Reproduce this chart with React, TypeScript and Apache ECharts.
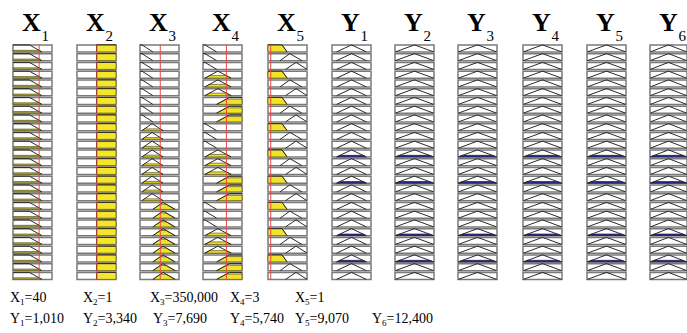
import React, { useEffect, useRef } from "react";
import * as echarts from "echarts";

const ROWS = 27;
const inputSubs = ["1", "2", "3", "4", "5"];
const outputSubs = ["1", "2", "3", "4", "5", "6"];
const inputValueText = ["40", "1", "350,000", "3", "1"];
const outputValueText = ["1,010", "3,340", "7,690", "5,740", "9,070", "12,400"];

// normalized input values (position of the red line in each input universe)
const inputPos = [0.67, 0.51, 0.52, 0.6, 0.07];

// membership functions per input, points [x, membership]
const x1MF = [[[0, 1], [0.42, 1], [0.74, 0]]];
const x2MF = [[[0.5, 0], [0.5, 1], [1, 1]]];
const x3MF = [
  [[0, 1], [0.05, 1], [0.33, 0]],
  [[0.05, 0], [0.31, 1], [0.59, 0]],
  [[0.33, 0], [0.59, 1], [0.9, 0]],
];
const x4MF = [
  [[0, 1], [0.05, 1], [0.35, 0]],
  [[0.05, 0], [0.38, 1], [0.72, 0]],
  [[0.35, 0], [0.68, 1], [1, 1]],
];
const x5MF = [
  [[0, 1], [0.36, 1], [0.49, 0]],
  [[0.31, 0], [0.56, 1], [0.87, 0]],
  [[0.45, 0], [0.72, 1], [1, 0]],
];

// rule antecedents (index of MF used by each of the 27 rules)
const ruleX1 = [0, 0, 0, 0, 0, 0, 0, 0, 0, 0, 0, 0, 0, 0, 0, 0, 0, 0, 0, 0, 0, 0, 0, 0, 0, 0, 0];
const ruleX2 = [0, 0, 0, 0, 0, 0, 0, 0, 0, 0, 0, 0, 0, 0, 0, 0, 0, 0, 0, 0, 0, 0, 0, 0, 0, 0, 0];
const ruleX3 = [0, 0, 0, 0, 0, 0, 0, 0, 0, 1, 1, 1, 1, 1, 1, 1, 1, 1, 2, 2, 2, 2, 2, 2, 2, 2, 2];
const ruleX4 = [0, 0, 0, 1, 1, 1, 2, 2, 2, 0, 0, 0, 1, 1, 1, 2, 2, 2, 0, 0, 0, 1, 1, 1, 2, 2, 2];
const ruleX5 = [0, 1, 2, 0, 1, 2, 0, 1, 2, 0, 1, 2, 0, 1, 2, 0, 1, 2, 0, 1, 2, 0, 1, 2, 0, 1, 2];

// output membership functions
const y1MF = [[0.12, 0], [0.5, 1], [0.88, 0]];
const y2MF = [[0.01, 0], [0.5, 1], [0.99, 0]];
const y3MF = [[0.01, 0], [0.5, 1], [0.99, 0]];
const y4MF = [[0.01, 0], [0.5, 1], [0.99, 0]];
const y5MF = [[0.01, 0], [0.5, 1], [0.99, 0]];
const y6MF = [[0.01, 0], [0.5, 1], [0.99, 0]];

const inputMFs = [x1MF, x2MF, x3MF, x4MF, x5MF];
const inputRules = [ruleX1, ruleX2, ruleX3, ruleX4, ruleX5];
const outputMFs = [y1MF, y2MF, y3MF, y4MF, y5MF, y6MF];

const COL_LEFT = [13, 77, 140, 203, 268, 332, 395, 458, 523, 587, 650];
const COL_W = 39;
const TOP = 44;
const ROW_H = 8.75;
const FONT = "Liberation Serif, Times New Roman, serif";
const INPUT_FILL = ["#b0aa55", "#f5e62a", "#f2e22a", "#f2e22a", "#f2e22a"];

function evalMF(pts: number[][], x: number): number {
  if (x <= pts[0][0]) return pts[0][1];
  for (let i = 1; i < pts.length; i++) {
    const p = pts[i - 1];
    const q = pts[i];
    if (x >= p[0] && x <= q[0]) {
      if (q[0] === p[0]) return q[1];
      return p[1] + ((x - p[0]) / (q[0] - p[0])) * (q[1] - p[1]);
    }
  }
  return pts[pts.length - 1][1];
}

function clipMF(pts: number[][], mu: number): number[][] {
  const out: number[][] = [[pts[0][0], 0], [pts[0][0], Math.min(pts[0][1], mu)]];
  for (let i = 1; i < pts.length; i++) {
    const p = pts[i - 1];
    const q = pts[i];
    if ((p[1] - mu) * (q[1] - mu) < 0) {
      const t = (mu - p[1]) / (q[1] - p[1]);
      out.push([p[0] + t * (q[0] - p[0]), mu]);
    }
    out.push([q[0], Math.min(q[1], mu)]);
  }
  out.push([pts[pts.length - 1][0], 0]);
  return out;
}

const rowIdx = Array.from({ length: ROWS }, (_, i) => [i]);

function strength(r: number): number {
  let s = 1;
  for (let k = 0; k < inputMFs.length; k++) {
    s = Math.min(s, evalMF(inputMFs[k][inputRules[k][r]], inputPos[k]));
  }
  return s;
}

export default function App() {
  const ref = useRef<HTMLDivElement>(null);
  useEffect(() => {
    if (!ref.current) return;
    const chart = echarts.init(ref.current, null, { renderer: "svg" });
    const grids: any[] = [];
    const xAxes: any[] = [];
    const yAxes: any[] = [];
    const series: any[] = [];
    const graphics: any[] = [];

    for (let c = 0; c < 11; c++) {
      grids.push({ left: COL_LEFT[c], top: TOP, width: COL_W, height: ROWS * ROW_H });
      xAxes.push({ gridIndex: c, type: "value", min: 0, max: 1, show: false });
      yAxes.push({ gridIndex: c, type: "value", min: 0, max: ROWS, inverse: true, show: false });
      const isInput = c < 5;
      const k = isInput ? c : c - 5;
      series.push({
        type: "custom",
        xAxisIndex: c,
        yAxisIndex: c,
        data: rowIdx,
        clip: false,
        renderItem: (params: any, api: any) => {
          const r = api.value(0);
          const tl = api.coord([0, r + 0.1]);
          const br = api.coord([1, r + 0.9]);
          const toPix = (p: number[]) => api.coord([p[0], r + 0.9 - 0.8 * p[1]]);
          const children: any[] = [
            {
              type: "rect",
              shape: { x: tl[0], y: tl[1], width: br[0] - tl[0], height: br[1] - tl[1] },
              style: { fill: "#ffffff", stroke: "#7a7a7a", lineWidth: 1.5 },
            },
          ];
          let mf: number[][];
          let mu: number;
          let fillColor: string;
          if (isInput) {
            mf = inputMFs[k][inputRules[k][r]];
            mu = evalMF(mf, inputPos[k]);
            fillColor = INPUT_FILL[k];
          } else {
            mf = outputMFs[k];
            mu = strength(r);
            fillColor = "#2e2e86";
          }
          if (mu > 0.001) {
            children.push({
              type: "polygon",
              shape: { points: clipMF(mf, mu).map(toPix) },
              style: { fill: fillColor, stroke: isInput ? "#6a6420" : "#20205a", lineWidth: 0.8 },
            });
          }
          children.push({
            type: "polyline",
            shape: { points: mf.map(toPix) },
            style: { fill: null, stroke: "#2a2a2a", lineWidth: 1 },
          });
          return { type: "group", children };
        },
      });
      if (isInput) {
        series.push({
          type: "custom",
          xAxisIndex: c,
          yAxisIndex: c,
          data: [[inputPos[k]]],
          clip: false,
          z: 5,
          renderItem: (params: any, api: any) => {
            const a = api.coord([api.value(0), 0.1]);
            const b = api.coord([api.value(0), ROWS - 0.1]);
            return {
              type: "line",
              shape: { x1: a[0], y1: a[1], x2: b[0], y2: b[1] },
              style: { stroke: "#e8474a", lineWidth: 1 },
            };
          },
        });
      }
      const cx = COL_LEFT[c] + COL_W / 2;
      graphics.push({
        type: "text",
        x: cx - 1,
        y: 22,
        style: {
          text: isInput ? "X" : "Y",
          font: `bold 26px ${FONT}`,
          fill: "#000",
          align: "center",
          verticalAlign: "middle",
        },
      });
      graphics.push({
        type: "text",
        x: cx + 9,
        y: 36,
        style: {
          text: isInput ? inputSubs[k] : outputSubs[k],
          font: `15px ${FONT}`,
          fill: "#000",
          align: "left",
          verticalAlign: "middle",
        },
      });
    }

    const rich = {
      m: { fontSize: 14, fontFamily: FONT, lineHeight: 18, verticalAlign: "middle", fill: "#000" },
      s: { fontSize: 9, fontFamily: FONT, verticalAlign: "bottom", fill: "#000" },
    };
    const inX = [10, 83, 150, 230, 295];
    const outX = [10, 83, 153, 230, 295, 372];
    for (let i = 0; i < inputValueText.length; i++) {
      graphics.push({
        type: "text",
        x: inX[i],
        y: 297,
        style: {
          text: `{m|X}{s|${inputSubs[i]}}{m|=${inputValueText[i]}}`,
          rich,
          verticalAlign: "middle",
        },
      });
    }
    for (let i = 0; i < outputValueText.length; i++) {
      graphics.push({
        type: "text",
        x: outX[i],
        y: 318,
        style: {
          text: `{m|Y}{s|${outputSubs[i]}}{m|=${outputValueText[i]}}`,
          rich,
          verticalAlign: "middle",
        },
      });
    }

    chart.setOption({
      animation: false,
      backgroundColor: "#ffffff",
      grid: grids,
      xAxis: xAxes,
      yAxis: yAxes,
      series,
      graphic: graphics,
    });
    return () => chart.dispose();
  }, []);
  return (
    <div
      ref={ref}
      style={{ position: "absolute", left: 0, top: 0, width: 687, height: 333 }}
    />
  );
}
